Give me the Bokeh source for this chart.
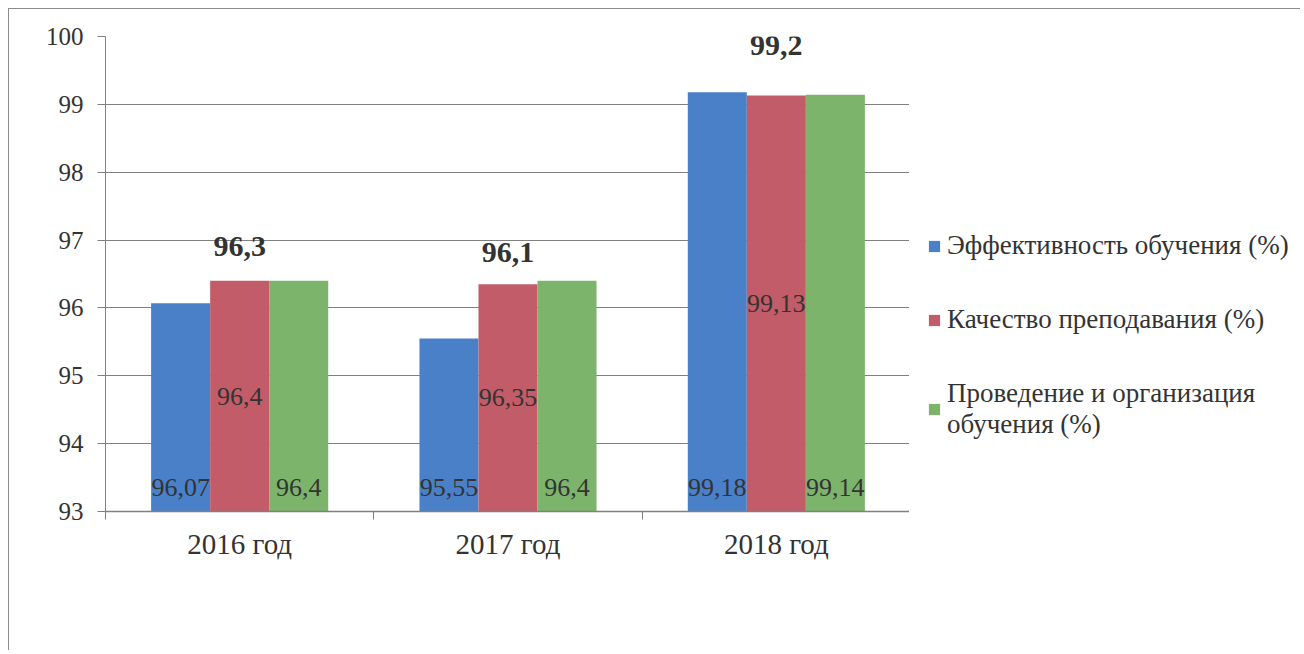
from bokeh.plotting import figure
from bokeh.models import ColumnDataSource, FixedTicker, Legend, LegendItem
from bokeh.layouts import row
from bokeh.core.properties import value
from bokeh.embed import file_html
from bokeh.resources import INLINE
import numpy as np

# ---- data ----
years = ["2016 год", "2017 год", "2018 год"]
series_names = ["Эффективность обучения (%)",
                "Качество преподавания (%)",
                "Проведение и организация\nобучения (%)"]
effectiveness = [96.07, 95.55, 99.18]
teaching = [96.4, 96.35, 99.13]
organization = [96.4, 96.4, 99.14]
overall = [96.3, 96.1, 99.2]
y_ticks = [93, 94, 95, 96, 97, 98, 99, 100]

# ---- styling ----
COLORS = ["#4A80C8", "#C25C68", "#7DB46C"]
FONT = "Liberation Serif"
TEXT_COLOR = "#333333"
GRID_COLOR = "#808080"
BAR_W = 0.22
TITLE_OFFSETS = [-34, -28, -47]

def fmt(v):
    return ("%g" % v).replace(".", ",")

H = 642
p = figure(width=901, height=H, output_backend="svg", toolbar_location=None,
           x_range=(0, len(years)), y_range=(y_ticks[0], y_ticks[-1]),
           min_border_left=96, min_border_top=27, min_border_bottom=140,
           min_border_right=0)
p.outline_line_color = None
p.background_fill_color = "white"
p.border_fill_color = "white"
p.styles = {"margin-left": "8px", "margin-top": "8px",
            "border-top": "1px solid #8c8c8c", "border-left": "1px solid #8c8c8c"}

centers = np.arange(len(years)) + 0.5
series = [effectiveness, teaching, organization]
offsets = [-BAR_W, 0.0, BAR_W]
base = y_ticks[0]

renderers = []
for vals, off, col in zip(series, offsets, COLORS):
    src = ColumnDataSource(dict(x=centers + off, top=vals, bottom=[base] * len(vals),
                                mid=[(base + v) / 2 for v in vals],
                                base=[base] * len(vals),
                                lbl=[fmt(v) for v in vals]))
    r = p.vbar(x="x", top="top", bottom="bottom", width=BAR_W, source=src,
               fill_color=col, line_color=None)
    renderers.append((r, src))

# value labels: first and third series at the base, second at the middle
for i, (r, src) in enumerate(renderers):
    if i == 1:
        p.text(x="x", y="mid", text="lbl", source=src, text_align="center",
               text_baseline="middle", text_font=value(FONT),
               text_font_size="26px", text_color=TEXT_COLOR)
    else:
        p.text(x="x", y="base", text="lbl", source=src, text_align="center",
               text_baseline="middle", text_font=value(FONT),
               text_font_size="26px", text_color=TEXT_COLOR, y_offset=-24)

# group totals (bold)
gmax = [max(a, b, c) for a, b, c in zip(effectiveness, teaching, organization)]
tsrc = ColumnDataSource(dict(x=centers, y=gmax, t=[fmt(v) for v in overall],
                             yo=TITLE_OFFSETS))
p.text(x="x", y="y", text="t", source=tsrc, text_align="center",
       text_baseline="middle", text_font=value(FONT), text_font_size="30px",
       text_font_style="bold", text_color=TEXT_COLOR, y_offset="yo")

# axes
p.xgrid.grid_line_color = None
p.ygrid.grid_line_color = GRID_COLOR
p.ygrid.grid_line_width = 1.2
p.ygrid.ticker = FixedTicker(ticks=y_ticks)

p.yaxis.ticker = FixedTicker(ticks=y_ticks)
p.yaxis.axis_line_color = GRID_COLOR
p.yaxis.major_tick_line_color = GRID_COLOR
p.yaxis.major_tick_out = 8
p.yaxis.major_tick_in = 0
p.yaxis.minor_tick_line_color = None
p.yaxis.major_label_standoff = 14
p.yaxis.major_label_text_font = FONT
p.yaxis.major_label_text_font_size = "25px"
p.yaxis.major_label_text_color = TEXT_COLOR

p.xaxis.ticker = FixedTicker(ticks=list(centers),
                             minor_ticks=list(np.arange(len(years) + 1)))
p.xaxis.major_label_overrides = {float(c): y for c, y in zip(centers, years)}
p.xaxis.axis_line_color = GRID_COLOR
p.xaxis.axis_line_width = 1.5
p.xaxis.major_tick_line_color = None
p.xaxis.major_tick_out = 0
p.xaxis.major_tick_in = 0
p.xaxis.minor_tick_line_color = GRID_COLOR
p.xaxis.minor_tick_out = 8
p.xaxis.minor_tick_in = 0
p.xaxis.major_label_standoff = 8
p.xaxis.major_label_text_font = FONT
p.xaxis.major_label_text_font_size = "29px"
p.xaxis.major_label_text_color = TEXT_COLOR

# ---- legend panel to the right of the chart ----
lg = figure(width=391, height=H, output_backend="svg", toolbar_location=None,
            x_range=(0, 1), y_range=(0, 1), min_border=0)
lg.axis.visible = False
lg.grid.grid_line_color = None
lg.outline_line_color = None
lg.styles = {"margin-top": "8px", "border-top": "1px solid #8c8c8c"}
# proxy renderers (drawn off-range) that only supply the legend swatches
lg_renderers = [lg.vbar(x=[5], top=[5], bottom=[4], width=0.1, fill_color=c,
                        line_color=None) for c in COLORS]
items = [LegendItem(label=n, renderers=[r]) for n, r in zip(series_names, lg_renderers)]
legend = Legend(items=items, location=(18, 71), border_line_color=None,
                background_fill_alpha=0, label_text_font=FONT,
                label_text_font_size="27px", label_text_color=TEXT_COLOR,
                glyph_width=14, glyph_height=14, spacing=43, margin=0,
                padding=7, label_standoff=6)
lg.add_layout(legend, "center")

layout = row(p, lg)
open("out.html", "w").write(file_html(layout, INLINE))
